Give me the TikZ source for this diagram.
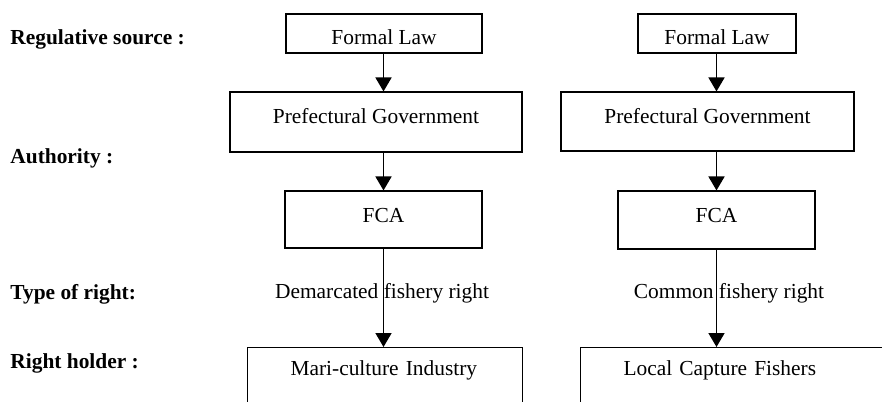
\documentclass[tikz,border=0pt]{standalone}
\usepackage{fontspec}
\setmainfont{Liberation Serif}
\usetikzlibrary{positioning, arrows.meta}

\begin{document}
\begin{tikzpicture}[x=0.5pt, y=-0.5pt,
  every node/.style={font=\fontsize{10.7}{12.8}\selectfont},
  unit/.style={draw, line width=0.55pt, inner xsep=0pt, inner ysep=0pt, text height=15.5pt},
  holder/.style={draw, line width=0.55pt, anchor=north west, align=left,
    inner xsep=21.5pt, inner ysep=0pt, text height=14pt, text depth=30pt},
  tier/.style={anchor=base west, inner sep=0pt, font=\fontsize{10.7}{12.8}\selectfont\bfseries},
  flow/.style={line width=0.85pt, -{Triangle[length=7pt,width=8pt]}}]

% Page frame
\useasboundingbox (0,0) rectangle (882,401);
\clip (0,0) rectangle (882,401);

% Level labels
\node[tier] (source) at (10,45) {Regulative source :};
\node[tier] (authority) at (10,163) {Authority :};
\node[tier] (type) at (10,299) {Type of right:};
\node[tier] (holder) at (10,368) {Right holder :};

% Left column
\node[unit, minimum width=98pt, text depth=4pt] (law1) at (384,33.5) {Formal Law};
\node[unit, minimum width=146pt, text depth=14.5pt] (gov1) at (376,122) {Prefectural Government};
\node[unit, minimum width=98.5pt, text depth=13pt] (fca1) at (383.5,219.5) {FCA};
\node[anchor=base] (demarcated) at (382,298) {Demarcated fishery right};
\node[holder, text width=94.5pt] (mari) at (247,347) {Mari-culture Industry};

% Right column
\node[unit, minimum width=79pt, text depth=4pt] (law2) at (717,33.5) {Formal Law};
\node[unit, minimum width=146.5pt, text depth=14pt] (gov2) at (707.5,121.5) {Prefectural Government};
\node[unit, minimum width=98.5pt, text depth=13.5pt] (fca2) at (716.5,220) {FCA};
\node[anchor=base] (common) at (729,298) {Common fishery right};
\node[holder, text width=117pt] (local) at (580,347) {Local Capture Fishers};

% Arrows
\draw[flow] (law1.south -| fca1.center) -- (gov1.north -| fca1.center);
\draw[flow] (gov1.south -| fca1.center) -- (fca1.north);
\draw[flow] (fca1.south) -- (mari.north -| fca1.center);
\draw[flow] (law2.south -| fca2.center) -- (gov2.north -| fca2.center);
\draw[flow] (gov2.south -| fca2.center) -- (fca2.north);
\draw[flow] (fca2.south) -- (local.north -| fca2.center);

\end{tikzpicture}
\end{document}
